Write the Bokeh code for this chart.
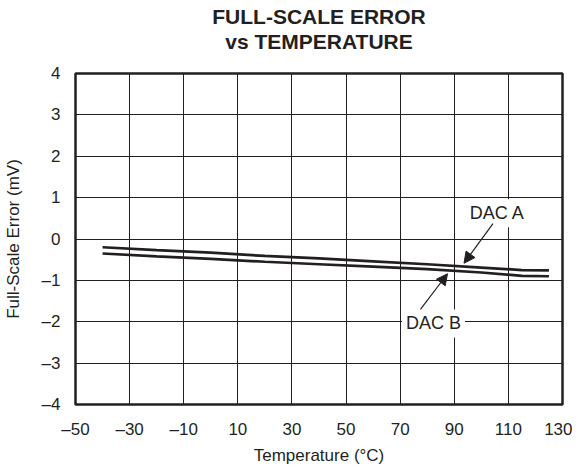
from bokeh.plotting import figure
from bokeh.models import (FixedTicker, Title, Label, Arrow, NormalHead, Range1d)
from bokeh.embed import file_html
from bokeh.resources import INLINE

# ---- data ----
temps = [-40, -20, 0, 20, 40, 60, 80, 100, 115, 125]
dac_a = [-0.20, -0.27, -0.33, -0.41, -0.47, -0.54, -0.61, -0.69, -0.75, -0.76]
dac_b = [-0.35, -0.42, -0.48, -0.55, -0.61, -0.67, -0.73, -0.81, -0.89, -0.90]

x_ticks = [-50, -30, -10, 10, 30, 50, 70, 90, 110, 130]
x_tick_labels = ["\u201350", "\u201330", "\u201310", "10", "30", "50", "70", "90", "110", "130"]
x_grid = [-30, -10, 10, 30, 50, 70, 90, 110]
y_ticks = [-4, -3, -2, -1, 0, 1, 2, 3, 4]
y_tick_labels = ["\u20134", "\u20133", "\u20132", "\u20131", "0", "1", "2", "3", "4"]

label_a = ("DAC A", 105.9, 0.62)
label_b = ("DAC B", 82.3, -2.04)
arrow_a = (104.3, 0.37, 93.6, -0.585)
arrow_b = (77.5, -1.70, 87.5, -0.84)

FONT = "Liberation Sans"
INK = "#231f20"

p = figure(width=572, height=473, output_backend="svg", toolbar_location=None,
           x_range=Range1d(-50, 130), y_range=Range1d(-4, 4),
           min_border_left=71, min_border_right=10, min_border_top=73, min_border_bottom=69)

p.add_layout(Title(text="Temperature (\u00b0C)", align="center", text_font=FONT,
                   text_font_size="17px", text_font_style="normal", text_color=INK,
                   standoff=4), "below")

# spacer between frame and the two title lines
p.add_layout(Title(text=" ", align="center", text_font=FONT, text_font_size="1px",
                   standoff=18), "above")
p.add_layout(Title(text="vs TEMPERATURE", align="center",
                   text_font=FONT, text_font_size="21px", text_font_style="bold",
                   text_color=INK, standoff=0), "above")
p.add_layout(Title(text="FULL-SCALE ERROR", align="center",
                   text_font=FONT, text_font_size="21px", text_font_style="bold",
                   text_color=INK, standoff=0), "above")

p.outline_line_color = INK
p.outline_line_width = 2.5

for ax in (p.xaxis[0], p.yaxis[0]):
    ax.axis_line_color = None
    ax.major_tick_line_color = None
    ax.minor_tick_line_color = None
    ax.major_tick_in = 0
    ax.major_tick_out = 0
    ax.minor_tick_in = 0
    ax.minor_tick_out = 0
    ax.major_label_text_font = FONT
    ax.major_label_text_font_size = "17px"
    ax.major_label_text_color = INK
    ax.axis_label_text_font = FONT
    ax.axis_label_text_font_size = "17px"
    ax.axis_label_text_font_style = "normal"
    ax.axis_label_text_color = INK

p.xaxis.ticker = FixedTicker(ticks=x_ticks)
p.xaxis.major_label_overrides = dict(zip(x_ticks, x_tick_labels))
p.yaxis.ticker = FixedTicker(ticks=y_ticks)
p.yaxis.major_label_overrides = dict(zip(y_ticks, y_tick_labels))
p.yaxis.axis_label = "Full-Scale Error (mV)"
p.xaxis.major_label_standoff = 15
p.yaxis.major_label_standoff = 15
p.yaxis.axis_label_standoff = 16

p.xgrid.ticker = FixedTicker(ticks=x_grid)
p.ygrid.ticker = FixedTicker(ticks=y_ticks)
p.grid.grid_line_color = INK
p.grid.grid_line_width = 1
p.grid.grid_line_alpha = 1.0

p.line(temps, dac_a, line_color=INK, line_width=2.7)
p.line(temps, dac_b, line_color=INK, line_width=2.7)

for (txt, lx, ly) in (label_a, label_b):
    p.add_layout(Label(x=lx, y=ly, text=txt, text_align="center", text_baseline="middle",
                       text_font=FONT, text_font_size="18px", text_color=INK,
                       background_fill_color="white", padding=4))

for (x0, y0, x1, y1) in (arrow_a, arrow_b):
    p.add_layout(Arrow(x_start=x0, y_start=y0, x_end=x1, y_end=y1,
                       line_color=INK, line_width=1.2,
                       end=NormalHead(size=11, fill_color=INK, line_color=INK, line_width=1)))

open("out.html", "w").write(file_html(p, INLINE))
